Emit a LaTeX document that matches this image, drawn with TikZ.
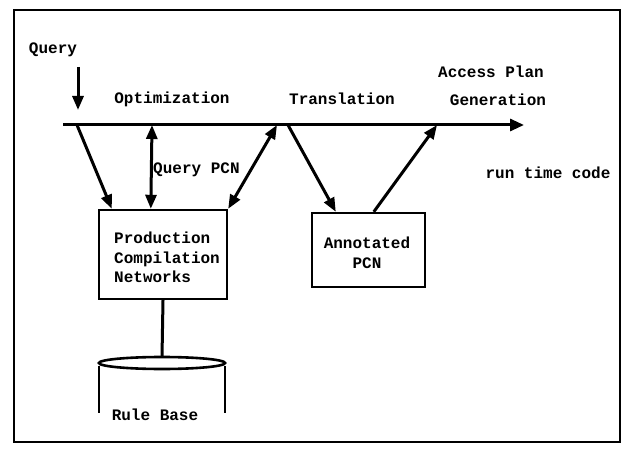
\documentclass[tikz,border=0pt]{standalone}
\usepackage{fontspec}
\setmainfont{Liberation Mono}
\usetikzlibrary{arrows.meta,calc}
\begin{document}
\begin{tikzpicture}[x=1pt,y=-1pt,
  font=\fontsize{16}{19}\selectfont\bfseries,
  lbl/.style={inner sep=0pt},
  boxnode/.style={draw,line width=2.4pt,inner sep=0pt},
  flow/.style={line width=3pt,-{Triangle[length=14pt,width=11pt]}},
  biflow/.style={line width=3pt,{Triangle[length=14pt,width=11pt]}-{Triangle[length=14pt,width=11pt]}},
  pipe/.style={line width=3pt}]
\useasboundingbox (0,0) rectangle (621,454);
% outer frame
\draw[line width=2pt] (14,10) rectangle (620,442);

% labels above the main line
\node[lbl] (qlabel) at (53,50) {Query};
\node[lbl] (opt) at (172,99) {Optimization};
\node[lbl] (trans) at (342,99) {Translation};
\node[lbl] (acc) at (491,72) {Access Plan};
\node[lbl] (gen) at (498,100) {Generation};
\node[lbl] (rtc) at (548,173) {run time code};

% incoming query
\coordinate (qa) at (78,67);
\coordinate (qb) at (78,110);
\draw[flow] (qa) -- (qb);

% main processing line
\coordinate (mstart) at (63,125);
\coordinate (mend) at (524,125);
\draw[pipe,-{Triangle[length=14pt,width=12pt]}] (mstart) -- (mend);
\coordinate (m1) at (77,125);
\coordinate (m2) at (152,125);
\coordinate (m3) at (277,125);
\coordinate (m4) at (288,125);
\coordinate (m5) at (437,125);

% boxes
\node[boxnode,minimum width=128pt,minimum height=89pt] (pcn) at (163,254.5) {};
\node[lbl,anchor=west,align=left] (pcntext) at (114,257.5)
  {Production\\[0.5pt]Compilation\\[0.5pt]Networks};
\node[boxnode,minimum width=113pt,minimum height=74pt] (apcn) at (368.5,250) {};
\node[lbl,align=center] (apcntext) at (367,253) {Annotated\\[1pt]PCN};

% connectors between the line and the boxes
\draw[flow] (m1) -- ($(pcn.north west)+(14,0)$);
\draw[biflow] (m2) -- ($(pcn.north west)+(53,0)$);
\node[lbl,anchor=west] (qpcn) at (153,170) {Query PCN};
\draw[biflow] (m3) -- (pcn.north east);
\draw[flow] (m4) -- ($(apcn.north west)+(25,0)$);
\draw[flow] ($(apcn.north west)+(63,0)$) -- (m5);

% rule base store
\coordinate (cyltop) at (162,357);
\draw[pipe] (pcn.south) -- (cyltop);
\draw[line width=2.6pt] (162,363) ellipse [x radius=63, y radius=6];
\draw[line width=2.6pt] (99,366) -- (99,413);
\draw[line width=2.6pt] (225,366) -- (225,413);
\node[lbl] (rb) at (155,415) {Rule Base};
\end{tikzpicture}
\end{document}
